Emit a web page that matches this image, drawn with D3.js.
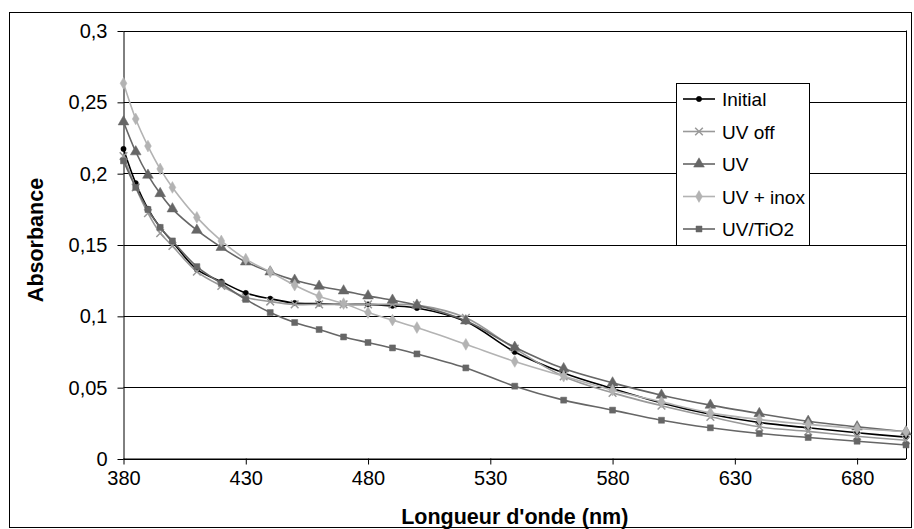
<!DOCTYPE html>
<html>
<head>
<meta charset="utf-8">
<script src="https://cdn.jsdelivr.net/npm/d3@7"></script>
<style>
body{margin:0;background:#fff;}
text{font-family:Arial,"Liberation Sans",sans-serif;}
</style>
</head>
<body>
<svg width="914" height="529"></svg>
<script>
var svg = d3.select("svg");

var wavelengths = [380,385,390,395,400,410,420,430,440,450,460,470,480,490,500,520,540,560,580,600,620,640,660,680,700];
var initial = [0.217,0.193,0.175,0.162,0.152,0.1325,0.124,0.116,0.112,0.109,0.1086,0.108,0.108,0.107,0.1055,0.096,0.0747,0.060,0.049,0.039,0.031,0.0252,0.0215,0.018,0.015];
var uvOff = [0.212,0.19,0.172,0.158,0.149,0.131,0.121,0.113,0.11,0.108,0.108,0.108,0.108,0.108,0.1075,0.0986,0.077,0.0575,0.046,0.037,0.0292,0.0222,0.019,0.0156,0.0128];
var uv = [0.236,0.215,0.1986,0.1857,0.175,0.160,0.148,0.1378,0.1308,0.125,0.1208,0.1175,0.114,0.111,0.1075,0.0965,0.078,0.063,0.053,0.0444,0.0374,0.0315,0.0261,0.0222,0.0187];
var uvInox = [0.263,0.238,0.219,0.203,0.190,0.169,0.1525,0.1397,0.1308,0.1215,0.1138,0.1086,0.1023,0.097,0.0918,0.080,0.068,0.0577,0.0479,0.0397,0.032,0.0273,0.024,0.021,0.0187];
var uvTio2 = [0.2086,0.190,0.1745,0.162,0.1525,0.1345,0.1227,0.1115,0.1023,0.0953,0.0904,0.0852,0.0813,0.0775,0.0733,0.0635,0.0507,0.0409,0.0339,0.0268,0.0215,0.0175,0.0147,0.0121,0.0095];

var seriesNames = ["Initial","UV off","UV","UV + inox","UV/TiO2"];
var seriesValues = [initial, uvOff, uv, uvInox, uvTio2];
var seriesColors = ["#000000","#999999","#666666","#b3b3b3","#666666"];
var seriesSymbols = ["circle","cross","triangle","diamond","square"];

var xTicks = [380,430,480,530,580,630,680];
var yTicks = [0,0.05,0.1,0.15,0.2,0.25,0.3];

var pLeft = 123.5, pRight = 906, pTop = 30.5, pBottom = 458.5;
var x = d3.scaleLinear().domain([380,700]).range([pLeft,pRight]);
var y = d3.scaleLinear().domain([0,0.3]).range([pBottom,pTop]);

// outer border
svg.append("rect").attr("x",9.5).attr("y",12.5).attr("width",902).attr("height",515)
   .attr("fill","none").attr("stroke","#000").attr("stroke-width",1);

// gridlines
svg.append("g").selectAll("line").data(yTicks).enter().append("line")
   .attr("x1",pLeft).attr("x2",pRight)
   .attr("y1",d=>Math.round(y(d))+0.5).attr("y2",d=>Math.round(y(d))+0.5)
   .attr("stroke","#000").attr("stroke-width",1);

// plot area border right
svg.append("line").attr("x1",pRight+0.5).attr("x2",pRight+0.5).attr("y1",pTop).attr("y2",pBottom+0.5)
   .attr("stroke","#000");

var fmt = function(d){ return d3.format("~g")(d).replace(".",","); };

var yAxis = svg.append("g").attr("transform","translate("+pLeft+",0.5)")
   .call(d3.axisLeft(y).tickValues(yTicks).tickSize(6).tickPadding(10).tickFormat(fmt));
var xAxis = svg.append("g").attr("transform","translate(0,"+(pBottom)+")")
   .call(d3.axisBottom(x).tickValues(xTicks).tickSize(6).tickPadding(6).tickFormat(d3.format("d")));
[yAxis,xAxis].forEach(function(a){
  a.select(".domain").attr("stroke","#000");
  a.selectAll(".tick line").attr("stroke","#000");
  a.selectAll("text").attr("font-size",20).attr("fill","#000").attr("font-family","Arial,'Liberation Sans',sans-serif");
});
xAxis.select(".domain").attr("d","M"+pLeft+",0.5H"+pRight);
yAxis.select(".domain").attr("d","M0.5,"+pTop+"V"+pBottom);

// lines
var line = d3.line().x((d,i)=>x(wavelengths[i])).y(d=>y(d)).curve(d3.curveCatmullRom.alpha(0.5));
var symbolTypes = {circle:d3.symbolCircle,cross:d3.symbolX,triangle:d3.symbolTriangle,diamond:d3.symbolDiamond,square:d3.symbolSquare};
var symbolSizes = {circle:22,cross:40,triangle:50,diamond:40,square:36};

function drawMarker(g, k, px, py){
  var s = seriesSymbols[k];
  var p = g.append("path").attr("transform","translate("+px+","+py+")")
     .attr("d",d3.symbol().type(symbolTypes[s]).size(symbolSizes[s])());
  if(s=="cross") p.attr("fill","none").attr("stroke",seriesColors[k]).attr("stroke-width",1.5);
  else p.attr("fill",seriesColors[k]).attr("stroke",seriesColors[k]).attr("stroke-width",0.5);
}

var plot = svg.append("g");
seriesValues.forEach(function(vals,k){
  plot.append("path").datum(vals).attr("d",line)
     .attr("fill","none").attr("stroke",seriesColors[k]).attr("stroke-width",1.6);
  vals.forEach(function(v,i){ drawMarker(plot,k,x(wavelengths[i]),y(v)); });
});

// legend
var lg = svg.append("g");
lg.append("rect").attr("x",676.5).attr("y",83.5).attr("width",133).attr("height",162)
  .attr("fill","#fff").attr("stroke","#000");
seriesNames.forEach(function(n,k){
  var ly = 99 + k*32.5;
  lg.append("line").attr("x1",683).attr("x2",715).attr("y1",ly).attr("y2",ly)
    .attr("stroke",seriesColors[k]).attr("stroke-width",1.6);
  drawMarker(lg,k,699,ly);
  lg.append("text").attr("x",722).attr("y",ly+7).attr("font-size",19).text(n);
});

// titles
svg.append("text").attr("x",(pLeft+pRight)/2).attr("y",524).attr("text-anchor","middle")
   .attr("font-size",21.5).attr("font-weight","bold").text("Longueur d'onde (nm)");
svg.append("text").attr("transform","translate(43,240) rotate(-90)").attr("text-anchor","middle")
   .attr("font-size",21.5).attr("font-weight","bold").text("Absorbance");
</script>
</body>
</html>
